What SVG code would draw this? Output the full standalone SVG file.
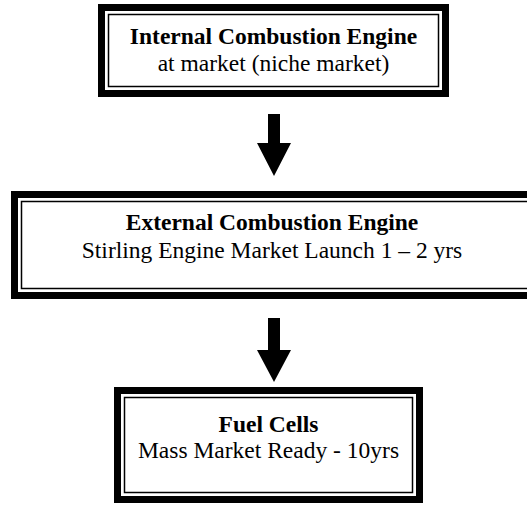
<svg xmlns="http://www.w3.org/2000/svg" width="527" height="506" viewBox="0 0 527 506">
  <style>
    .outer { fill: none; stroke: #000; stroke-width: 7; }
    .inner { fill: none; stroke: #000; stroke-width: 1.5; }
    .bg { fill: #fff; }
    .title { font-family: "Liberation Serif", "Times New Roman", serif; font-size: 23.5px; font-weight: bold; text-anchor: middle; fill: #000; }
    .sub { font-family: "Liberation Serif", "Times New Roman", serif; font-size: 23.5px; text-anchor: middle; fill: #000; }
    .arrow { fill: #000; }
  </style>
  <rect class="bg" x="0" y="0" width="527" height="506"/>

  <!-- stage 1 -->
  <g id="internal-combustion">
    <rect class="outer" x="101.5" y="7.5" width="344" height="86"/>
    <rect class="inner" x="108.5" y="14.5" width="330" height="72"/>
    <text class="title" x="273.5" y="44">Internal Combustion Engine</text>
    <text class="sub" x="273.5" y="71">at market (niche market)</text>
  </g>

  <!-- stage 2 -->
  <g id="external-combustion">
    <rect class="outer" x="14.5" y="194.5" width="530" height="101"/>
    <rect class="inner" x="21.5" y="201.5" width="516" height="87"/>
    <text class="title" x="272" y="230">External Combustion Engine</text>
    <text class="sub" x="272" y="258">Stirling Engine Market Launch 1 – 2 yrs</text>
  </g>

  <!-- stage 3 -->
  <g id="fuel-cells">
    <rect class="outer" x="117.5" y="390.5" width="302" height="109"/>
    <rect class="inner" x="124.5" y="397.5" width="288" height="95"/>
    <text class="title" x="268.5" y="432">Fuel Cells</text>
    <text class="sub" x="268.5" y="458">Mass Market Ready - 10yrs</text>
  </g>

  <!-- block arrows between stages -->
  <g id="connectors">
    <polygon class="arrow" points="268,114 280,114 280,143 291,143 274,176 257,143 268,143"/>
    <polygon class="arrow" points="268,318 280,318 280,350 291,350 274,382 257,350 268,350"/>
  </g>
</svg>
